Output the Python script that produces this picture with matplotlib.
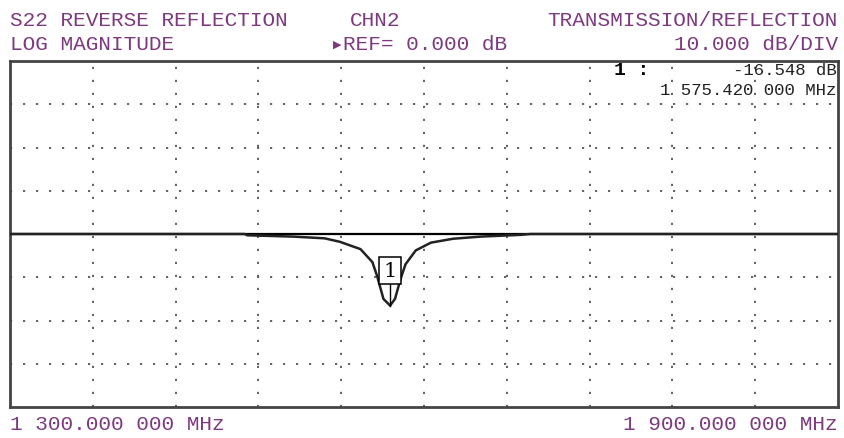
import matplotlib
matplotlib.use("Agg")
import matplotlib.pyplot as plt
import numpy as np

# trace (MHz, dB)
freq_mhz = [1300, 1470, 1472, 1505, 1528, 1539, 1554, 1562.6, 1566, 1570.6,
            1575.42, 1579, 1583, 1586.6, 1594, 1605, 1621, 1641, 1670, 1677, 1900]
s22_db = [0.0, 0.0, -0.3, -0.6, -1.0, -1.8, -3.5, -6.5, -9.7, -15.0,
          -16.548, -15.0, -10.4, -7.0, -3.8, -2.0, -1.1, -0.6, -0.2, 0.0, 0.0]

start_mhz = 1300
stop_mhz = 1900
ref_db = 0.0
db_per_div = 10.0
marker_mhz = 1575.42
marker_db = -16.548

purple = "#7d3a7f"
mono = "Liberation Mono"

fig = plt.figure(figsize=(8.45, 4.39), dpi=100)
fig.patch.set_facecolor("white")
ax = fig.add_axes([10 / 845, 31 / 439, 828 / 845, 346 / 439])

ax.set_xlim(start_mhz, stop_mhz)
ax.set_ylim(ref_db - 4 * db_per_div, ref_db + 4 * db_per_div)
ax.set_xticks(np.linspace(start_mhz, stop_mhz, 11)[1:-1])
ax.set_yticks(np.arange(-3, 4) * db_per_div + ref_db)
ax.tick_params(length=0, labelbottom=False, labelleft=False)
ax.grid(True, color="#555555", linestyle=(0, (1.2, 6)), linewidth=1.3)
for s in ax.spines.values():
    s.set_color("#444444")
    s.set_linewidth(2)

# reference line
ax.axhline(ref_db, color="black", linewidth=1.6, zorder=3)
ax.plot(freq_mhz, s22_db, color="#222222", linewidth=1.8, zorder=4)

# marker 1
ax.plot([marker_mhz, marker_mhz], [marker_db, -11.0], color="black", linewidth=1, zorder=5)
ax.text(marker_mhz, -8.4, "1", ha="center", va="center", fontsize=15,
        family="DejaVu Serif", zorder=6,
        bbox=dict(boxstyle="square,pad=0.2", fc="white", ec="black", lw=1.1))

# marker readout
ax.text(0.729, 0.962, "1 :", transform=ax.transAxes, ha="left", va="baseline",
        fontsize=14, family=mono, fontweight="bold", color="black")
ax.text(0.998, 0.962, "-16.548 dB", transform=ax.transAxes, ha="right", va="baseline",
        fontsize=12.5, family=mono, color="#222222")
ax.text(0.998, 0.905, "1 575.420 000 MHz", transform=ax.transAxes, ha="right", va="baseline",
        fontsize=12.5, family=mono, color="#222222")

# header / footer annotations
def label(x, y, s, ha="left"):
    fig.text(x / 845, 1 - y / 439, s, ha=ha, va="center", fontsize=15.2,
             family=mono, color=purple)

label(10, 21, "S22 REVERSE REFLECTION")
label(350, 21, "CHN2")
label(838, 21, "TRANSMISSION/REFLECTION", ha="right")
label(10, 45, "LOG MAGNITUDE")
fig.text(333 / 845, 1 - 45 / 439, "\u25b6", ha="left", va="center", fontsize=8,
         family="DejaVu Sans", color=purple)
label(343, 45, "REF= 0.000 dB")
label(838, 45, "10.000 dB/DIV", ha="right")
label(10, 425, "1 300.000 000 MHz")
label(838, 425, "1 900.000 000 MHz", ha="right")

fig.savefig("out.png", dpi=100)
